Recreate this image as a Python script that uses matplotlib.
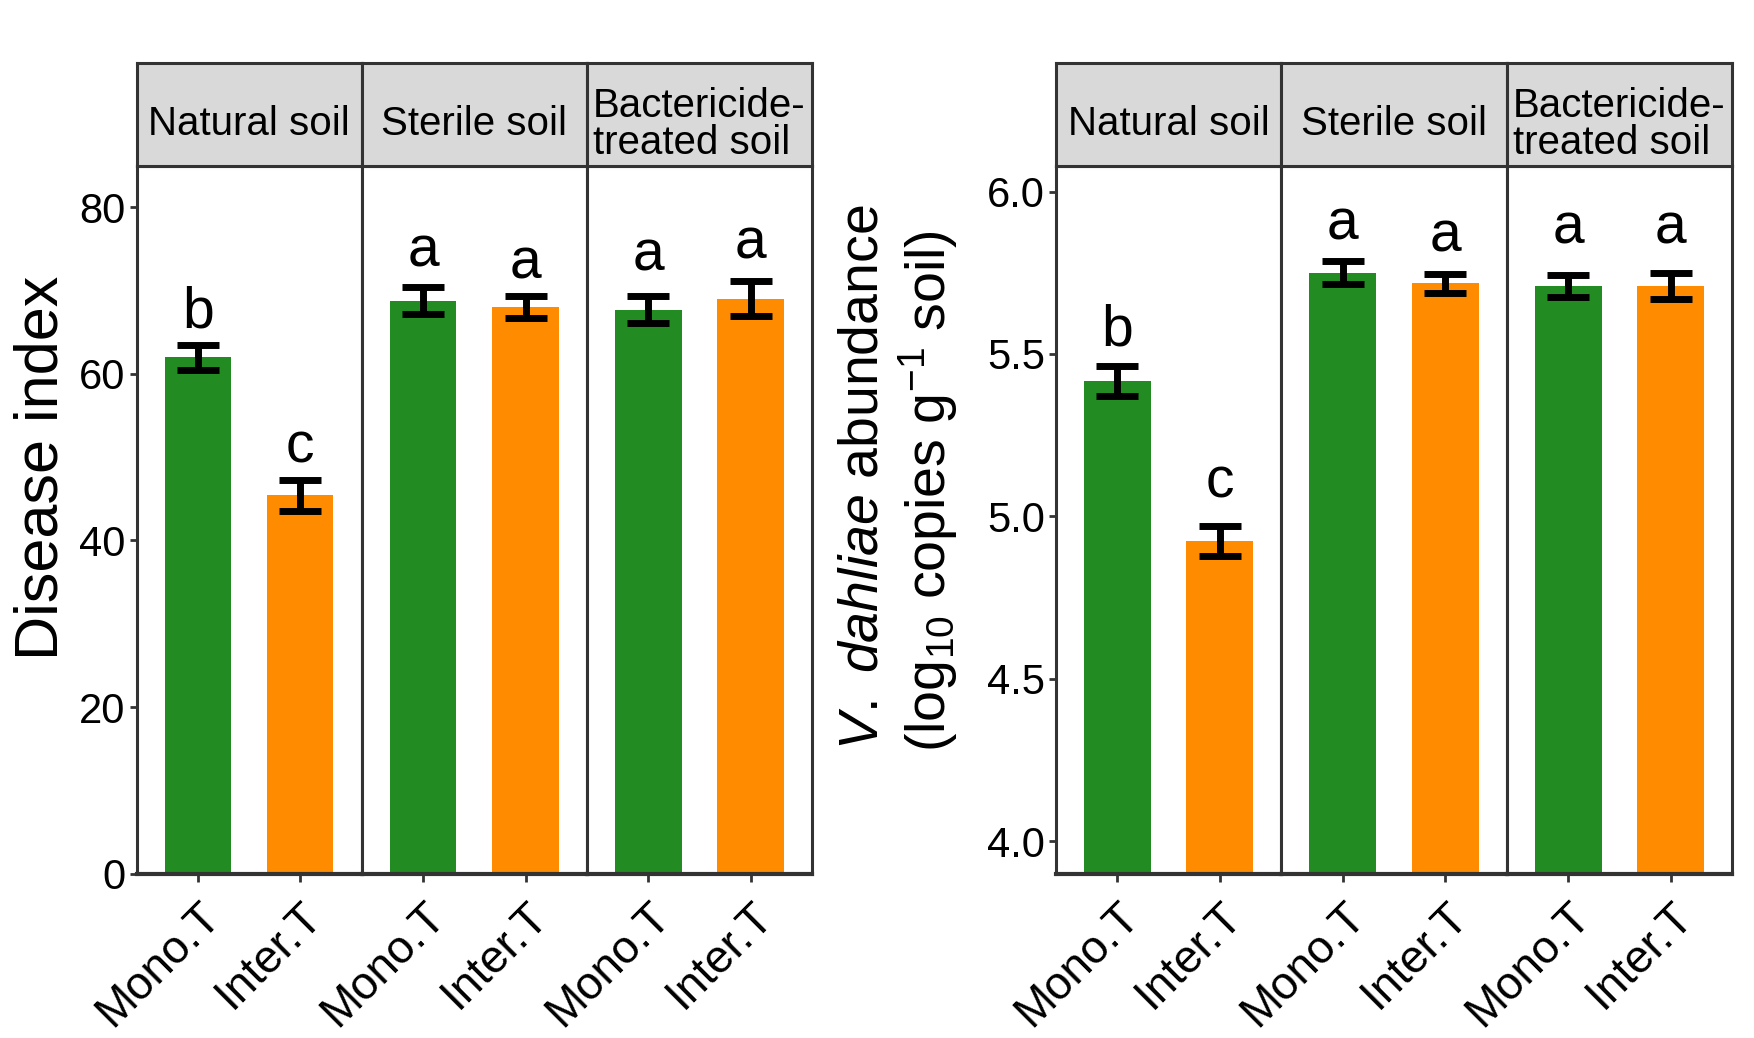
import matplotlib
matplotlib.use('Agg')
import matplotlib.pyplot as plt

plt.rcParams['font.family'] = ['Liberation Sans', 'DejaVu Sans']
plt.rcParams['mathtext.fontset'] = 'custom'
plt.rcParams['mathtext.rm'] = 'Liberation Sans'
plt.rcParams['mathtext.it'] = 'Liberation Sans:italic'
plt.rcParams['mathtext.bf'] = 'Liberation Sans:bold'

# ---------------- data ----------------
soils = ["Natural soil", "Sterile soil", "Bactericide-\ntreated soil"]
treatments = ["Mono.T", "Inter.T"]
bar_colors = ["#228B22", "#FF8C00"]

disease_mean = [[62.0, 45.4], [68.8, 68.0], [67.7, 69.0]]
disease_se = [[1.5, 1.9], [1.6, 1.3], [1.6, 2.1]]
disease_letters = [["b", "c"], ["a", "a"], ["a", "a"]]
disease_letter_y = [[65.6, 49.3], [72.9, 71.5], [72.4, 73.9]]
disease_ticks = [0, 20, 40, 60, 80]

abund_mean = [[5.418, 4.925], [5.750, 5.717], [5.709, 5.709]]
abund_se = [[0.046, 0.046], [0.036, 0.030], [0.035, 0.039]]
abund_letters = [["b", "c"], ["a", "a"], ["a", "a"]]
abund_letter_y = [[5.527, 5.057], [5.851, 5.815], [5.841, 5.841]]
abund_ticks = [4.0, 4.5, 5.0, 5.5, 6.0]

# ---------------- layout ----------------
W, H = 1754, 1038
fig = plt.figure(figsize=(W / 100, H / 100), dpi=100)

PANEL_TOP, PANEL_BOT, STRIP_TOP = 165.6, 873.6, 62.6
BORDER = "#333333"


def draw_plot(x_edges, ylim, yticks, yfmt, means, ses, letters, letter_y):
    for i in range(3):
        x0, x1 = x_edges[i], x_edges[i + 1]
        ax = fig.add_axes([x0 / W, 1 - PANEL_BOT / H, (x1 - x0) / W,
                           (PANEL_BOT - PANEL_TOP) / H])
        xs = [1, 2]
        ax.bar(xs, means[i], width=0.65, color=bar_colors, zorder=2)
        ax.errorbar(xs, means[i], yerr=ses[i], fmt='none', ecolor='black',
                    elinewidth=5, capsize=15, capthick=5, zorder=3)
        for x, lab, ly in zip(xs, letters[i], letter_y[i]):
            ax.text(x, ly, lab, ha='center', va='baseline', fontsize=41,
                    color='black', zorder=4)
        ax.set_xlim(0.4, 2.6)
        ax.set_ylim(*ylim)
        ax.set_xticks(xs)
        ax.set_xticklabels(treatments, rotation=45, ha='right', va='top',
                           rotation_mode='anchor', fontsize=33)
        for s in ax.spines.values():
            s.set_color(BORDER)
            s.set_linewidth(2.2)
        ax.spines['bottom'].set_linewidth(3.0)
        ax.tick_params(axis='x', length=6, width=2, color=BORDER, pad=9)
        if i == 0:
            ax.set_yticks(yticks)
            ax.set_yticklabels([yfmt.format(t) for t in yticks])
            ax.tick_params(axis='y', length=5, width=2, color=BORDER,
                           labelsize=30, pad=3)
        else:
            ax.tick_params(axis='y', left=False, labelleft=False)
        # strip
        sax = fig.add_axes([x0 / W, 1 - PANEL_TOP / H, (x1 - x0) / W,
                            (PANEL_TOP - STRIP_TOP) / H])
        sax.set_facecolor("#D9D9D9")
        sax.set_xticks([])
        sax.set_yticks([])
        for s in sax.spines.values():
            s.set_color(BORDER)
            s.set_linewidth(2.2)
        sax.text(0.5, 0.40, soils[i], ha='center', va='center', fontsize=29,
                 linespacing=0.95, multialignment='left',
                 transform=sax.transAxes)


draw_plot([136.5, 361.5, 587.0, 812.0], (0, 85), disease_ticks, "{:.0f}",
          disease_mean, disease_se, disease_letters, disease_letter_y)
draw_plot([1056.0, 1281.0, 1507.0, 1732.0], (3.9, 6.08), abund_ticks, "{:.1f}",
          abund_mean, abund_se, abund_letters, abund_letter_y)

fig.text(42 / W, 1 - 468 / H, "Disease index", rotation=90, ha='center',
         va='center', fontsize=44)
fig.text(864 / W, 1 - 750 / H, r"$\mathit{V.}$ $\mathit{dahliae}$ abundance",
         rotation=90, ha='center', va='bottom', fontsize=40)
fig.text(928 / W, 1 - 752 / H, r"(log$_{10}$ copies g$^{-1}$ soil)",
         rotation=90, ha='center', va='bottom', fontsize=40)

fig.savefig("out.png", dpi=100, facecolor='white')
